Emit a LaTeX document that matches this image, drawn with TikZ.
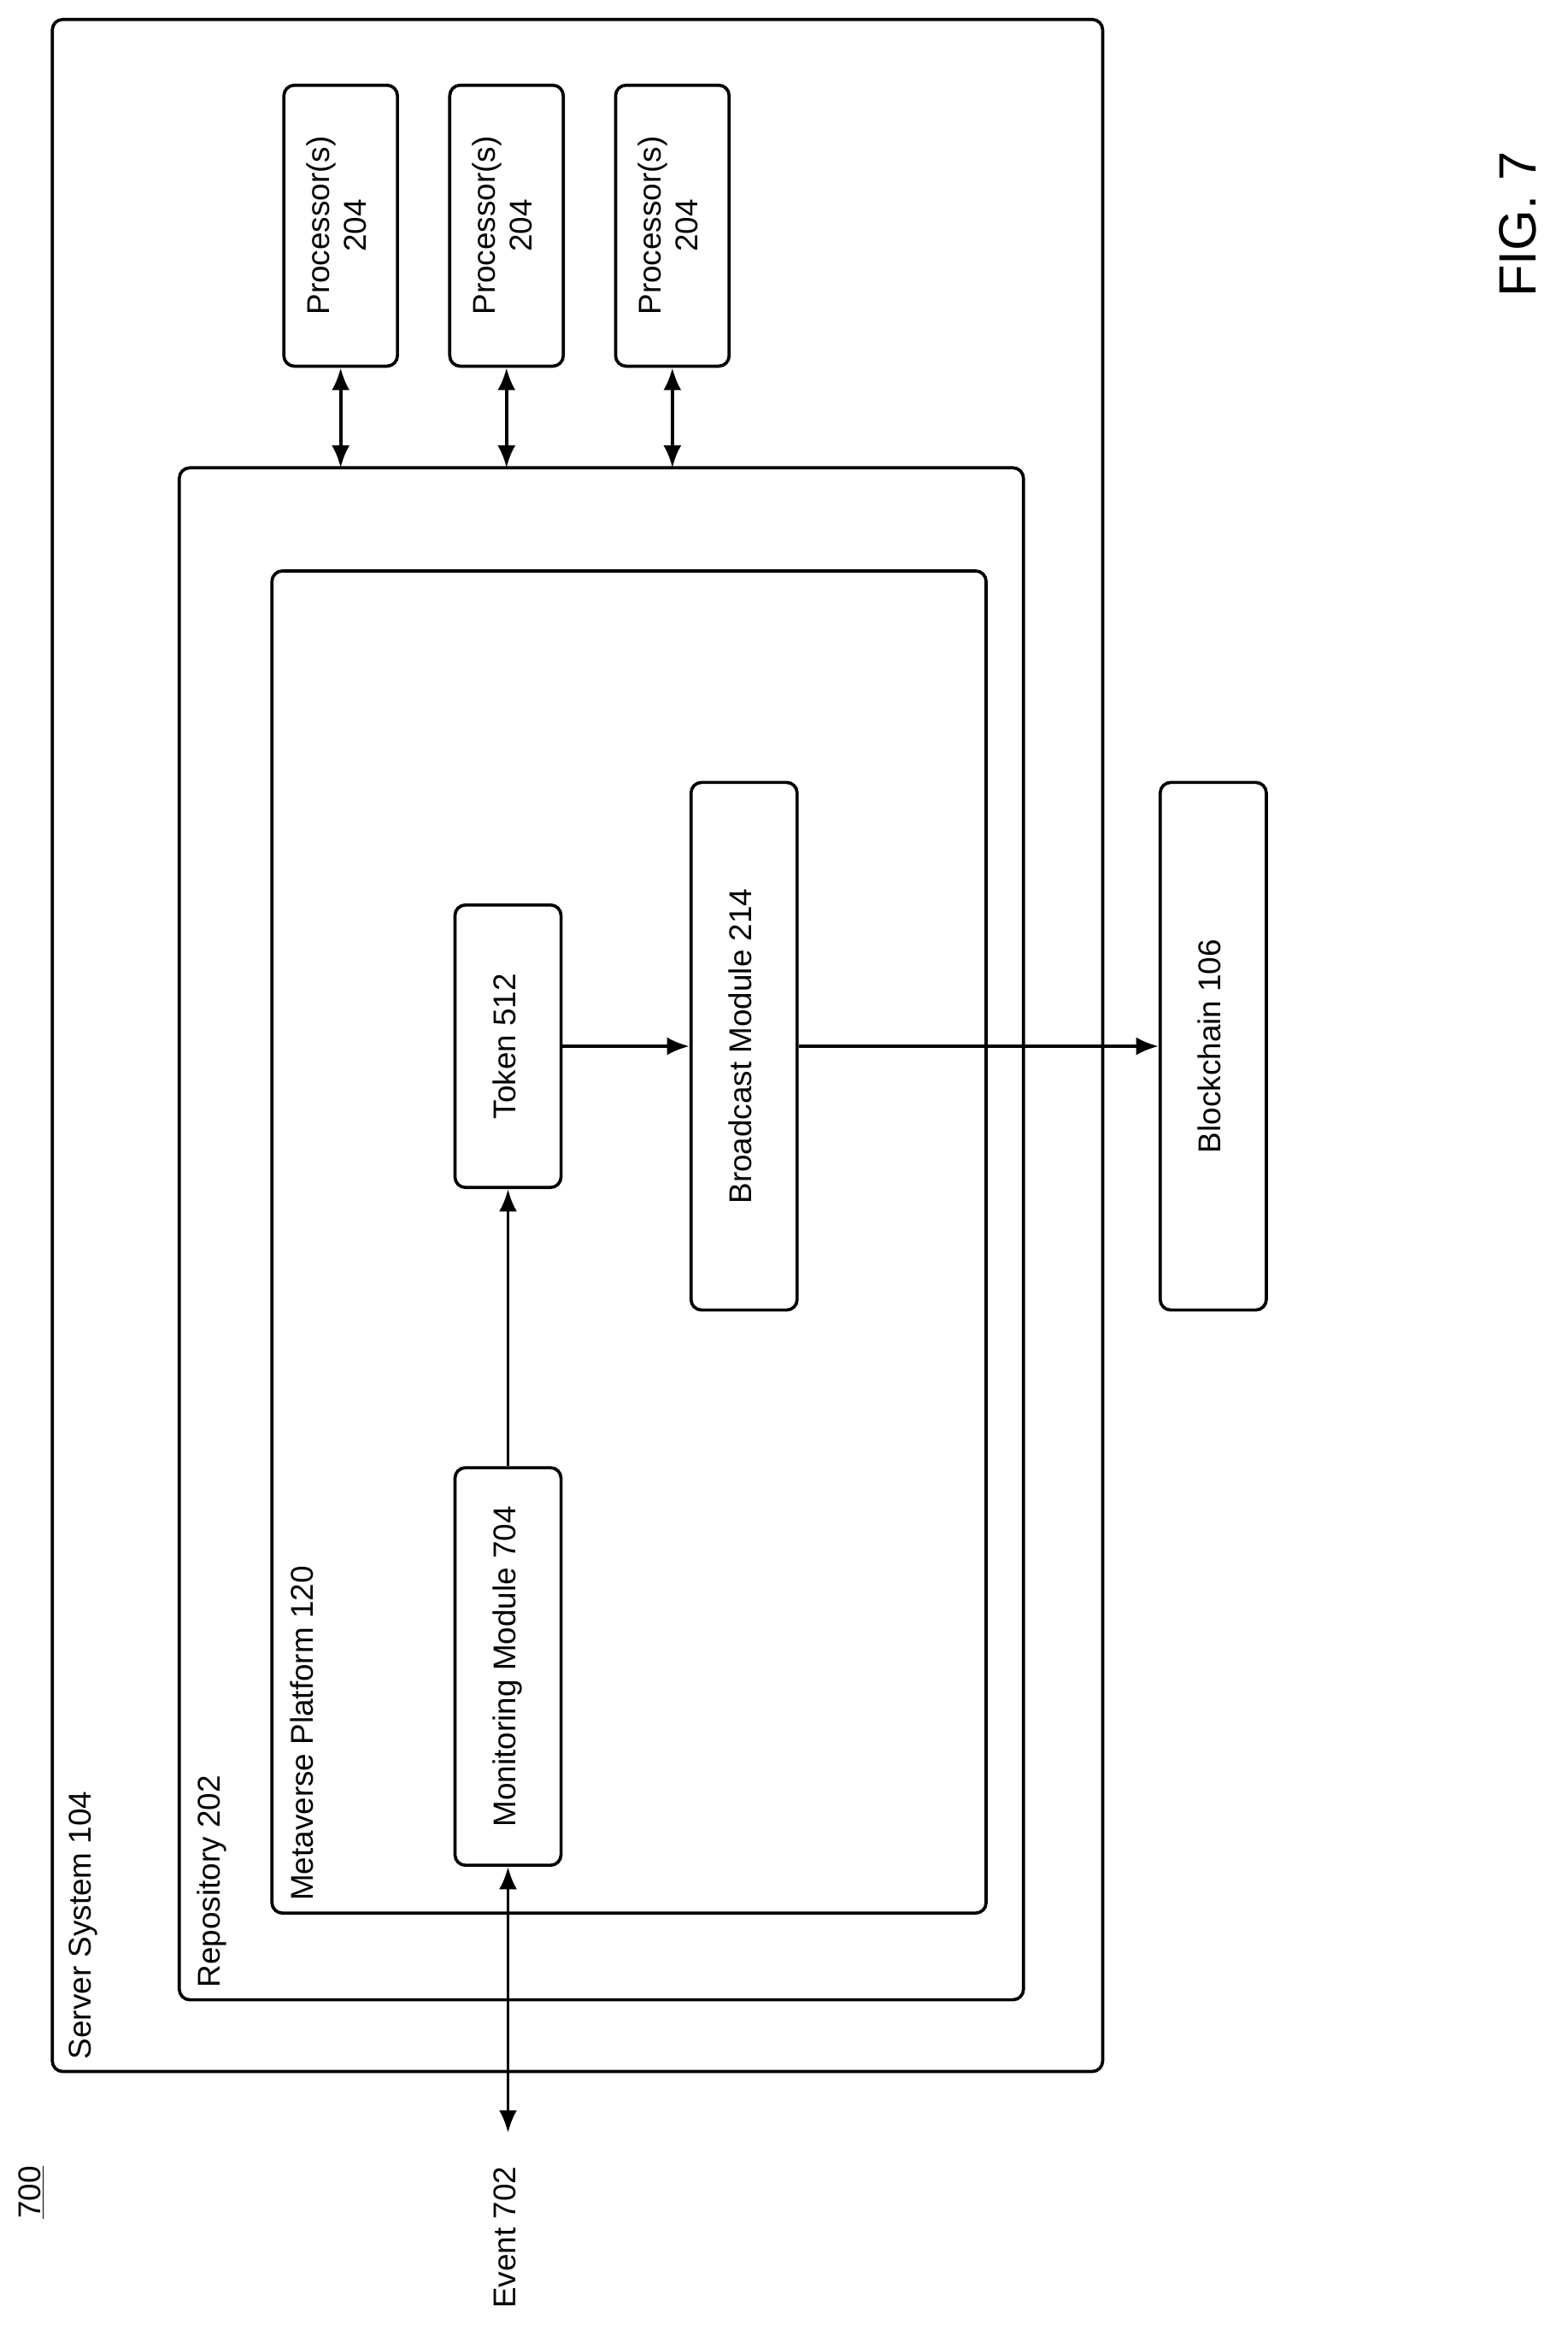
\documentclass[tikz,border=0pt]{standalone}
\usepackage{fontspec}
\setmainfont{Liberation Sans}
\usetikzlibrary{arrows.meta,positioning}
\tikzset{
	box/.style={draw, line width=1.8pt, rounded corners=6pt},
	blk/.style={box, minimum width=21.3mm, inner sep=0pt, font=\fontsize{18}{21}\selectfont},
	lbl/.style={rotate=90, anchor=north west, inner sep=0pt, font=\fontsize{18}{21}\selectfont},
	arr/.style={line width=1.8pt, -{Latex[length=4.5mm,width=3.6mm]}},
	darr/.style={line width=1.8pt, {Latex[length=4.5mm,width=3.6mm]}-{Latex[length=4.5mm,width=3.6mm]}}
}
\newcommand{\rtxt}[1]{\rotatebox{90}{\begin{tabular}{@{}c@{}}#1\end{tabular}}}
\begin{document}
\begin{tikzpicture}[x=0.3mm, y=-0.3mm]
	\useasboundingbox (0,0) rectangle (1049,1571);
	% nested containers
	\draw[box] (35,13) rectangle (738,1386);
	\draw[box] (120,313) rectangle (685,1338);
	\draw[box] (182,382) rectangle (660,1280);
	\node[lbl] (srv) at (46,1378) {Server System 104};
	\node[lbl] (rep) at (132,1330) {Repository 202};
	\node[lbl] (mvp) at (194,1272) {Metaverse Platform 120};
	% processors
	\foreach \x/\n in {228/p1, 339/p2, 450/p3}{
		\node[blk, minimum width=22.8mm, minimum height=56.4mm] (\n) at (\x,151) {\rtxt{Processor(s)\\204}};
		\coordinate (\n r) at (\x,313);
		\draw[darr] (\n.south) -- (\n r);
	}
	% modules
	\node[blk, minimum height=56.7mm] (tok) at (340,700) {\rtxt{Token 512}};
	\node[blk, minimum height=79.8mm] (mon) at (340,1115) {\rtxt{Monitoring Module 704}};
	\node[blk, minimum height=105.9mm] (brd) at (498,700) {\rtxt{Broadcast Module 214}};
	\node[blk, minimum height=105.9mm] (bch) at (812,700) {\rtxt{Blockchain 106}};
	\node[font=\fontsize{18}{21}\selectfont] (evt) at (340,1497) {\rtxt{Event 702}};
	\coordinate (evtr) at (340,1427);
	\draw[arr] (mon.north) -- (tok.south);
	\draw[arr] (tok.east) -- (brd.west);
	\draw[arr] (brd.east) -- (bch.west);
	\draw[darr] (mon.south) -- (evtr);
	% figure labels
	\node[font=\fontsize{18}{21}\selectfont] (num) at (22,1467) {\rtxt{\underline{700}}};
	\node[font=\fontsize{30}{34}\selectfont] (fig) at (1020,150) {\rtxt{FIG. 7}};
\end{tikzpicture}
\end{document}
